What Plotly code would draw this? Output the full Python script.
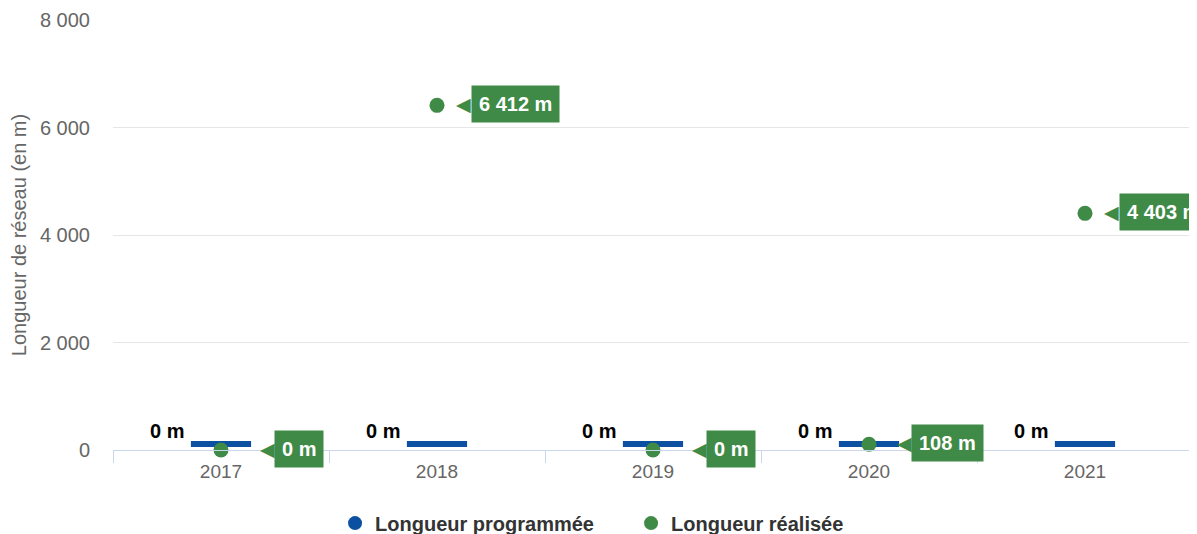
import plotly.graph_objects as go

years = ["2017", "2018", "2019", "2020", "2021"]
programmee = [0, 0, 0, 0, 0]
realisee = [0, 6412, 0, 108, 4403]
y_ticks = [0, 2000, 4000, 6000, 8000]

BLUE = "#0c51a1"
GREEN = "#3f8a46"
FONT = "Liberation Sans, Helvetica, Arial, sans-serif"
LIFT = 110  # visual lift of the thin programmed bar above the axis
LABEL_SIZE = 20
PAD = 7
# approximate bold Arial glyph widths (em) used to place the callout pointer
GLYPH_W = {" ": 0.278, "m": 0.889}


def fmt(v):
    return f"{v:,}".replace(",", " ") + " m"


def box_width(t):
    return sum(GLYPH_W.get(c, 0.556) for c in t) * LABEL_SIZE + 2 * PAD + 2


fig = go.Figure()

# programmed length shown as thin horizontal bar marker
fig.add_trace(go.Scatter(
    x=years, y=[v + LIFT for v in programmee], mode="markers",
    marker=dict(symbol="line-ew", size=43, line=dict(width=6, color=BLUE), color=BLUE),
    showlegend=False, cliponaxis=False, hoverinfo="skip"))

fig.add_trace(go.Scatter(
    x=years, y=realisee, mode="markers",
    marker=dict(symbol="circle", size=15, color=GREEN),
    showlegend=False, cliponaxis=False))

# legend entries
fig.add_trace(go.Scatter(x=[None], y=[None], mode="markers", name="Longueur programmée",
                         marker=dict(symbol="circle", size=14, color=BLUE)))
fig.add_trace(go.Scatter(x=[None], y=[None], mode="markers", name="Longueur réalisée",
                         marker=dict(symbol="circle", size=14, color=GREEN)))

annotations = []
for i, v in enumerate(programmee):
    annotations.append(dict(x=i, y=v + LIFT, xref="x", yref="y", text="<b>" + fmt(v) + "</b>",
                            showarrow=False, xshift=-54, yshift=13,
                            font=dict(family=FONT, size=LABEL_SIZE, color="#000000")))
for i, v in enumerate(realisee):
    t = fmt(v)
    bw = box_width(t)
    annotations.append(dict(x=i, y=v, xref="x", yref="y", text="<b>" + t + "</b>",
                            showarrow=False, xanchor="center", yanchor="middle", xshift=78, yshift=1,
                            bgcolor=GREEN, borderpad=PAD,
                            font=dict(family=FONT, size=LABEL_SIZE, color="#ffffff")))
    annotations.append(dict(x=i, y=v, xref="x", yref="y", text="◀",
                            showarrow=False, xanchor="right", yanchor="middle",
                            xshift=78 - bw / 2 + 3, yshift=1,
                            font=dict(family="DejaVu Sans", size=19, color=GREEN)))

# the page body adds an 8px offset; the figure is sized so the plot lands where the reference's does
fig.update_layout(
    width=1189, height=526,
    margin=dict(l=105, r=4, t=12, b=84, autoexpand=False),
    paper_bgcolor="#ffffff", plot_bgcolor="#ffffff",
    separators=", ",
    font=dict(family=FONT, color="#666666"),
    annotations=annotations,
    legend=dict(orientation="h", x=0.2056, xanchor="left", y=-0.17, yanchor="middle",
                font=dict(family=FONT, size=20, color="#333333", weight="bold"),
                entrywidth=251, entrywidthmode="pixels", tracegroupgap=0),
    xaxis=dict(type="category", categoryorder="array", categoryarray=years,
               showline=True, linecolor="#ccd6eb", linewidth=1,
               ticks="outside", tickson="boundaries", ticklen=12, tickcolor="#ccd6eb",
               ticklabelstandoff=4,
               showgrid=False, tickfont=dict(family=FONT, size=19, color="#666666"),
               range=[-0.5, 4.5], automargin=False),
    yaxis=dict(range=[0, 8000], tickvals=y_ticks, tickformat=",d",
               showgrid=True, gridcolor="#e6e6e6", gridwidth=1, zeroline=False,
               ticks="", ticklabelstandoff=22, automargin=False,
               tickfont=dict(family=FONT, size=20, color="#666666"),
               title=dict(text="Longueur de réseau (en m)", standoff=10,
                          font=dict(family=FONT, size=20, color="#666666"))),
)

fig.write_html("out.html")
